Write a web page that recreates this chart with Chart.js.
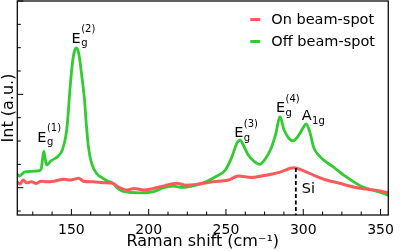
<!DOCTYPE html>
<html><head><meta charset="utf-8">
<script src="https://cdn.jsdelivr.net/npm/chart.js@4"></script>
<style>html,body{margin:0;padding:0;background:#fff;}</style>
</head><body>
<canvas id="c" width="401" height="251"></canvas>
<script>
// ---- data ----
const seriesNames = ['On beam-spot', 'Off beam-spot'];
const onX = [115,116.7,118.8,121.0,124.1,127.3,130.4,134.6,138.9,145.2,149.4,154.7,157.8,164.2,170.5,176.8,180.0,186.3,190.6,196.9,203.2,209.6,218.0,224.3,230.6,241.2,251.7,258.0,266.5,272.8,279.2,285.5,293.9,300.3,306.6,315.0,323.5,331.9,340.3,348.8,355];
const onY = [1.25,1.16,1.33,1.21,1.25,1.18,1.28,1.25,1.28,1.36,1.33,1.40,1.28,1.25,1.21,1.19,1.04,0.90,0.97,0.90,0.97,1.07,1.19,1.11,1.14,1.25,1.33,1.50,1.44,1.50,1.58,1.68,1.85,1.72,1.54,1.33,1.19,1.04,0.94,0.87,0.78];
const offX = [115,116.1,119.9,129.4,130.6,132.1,133.2,134.0,136.8,141.0,144.1,146.3,147.3,149.4,150.9,152.2,153.2,154.7,156.8,158.5,159.6,161.0,163.1,166.3,170.5,173.7,176.8,180.0,184.2,194.7,203.2,209.6,215.9,222.2,230.6,237.0,243.3,249.6,253.9,257.0,259.1,261.2,264.4,268.6,271.8,274.9,279.2,282.3,284.9,287.6,290.8,293.5,297.1,300.3,301.8,304.5,306.6,310.8,319.2,327.7,336.1,344.5,350.9,355];
const offY = [1.58,1.50,1.68,1.73,1.84,2.57,2.18,1.97,2.15,2.33,2.61,3.18,3.68,5.48,6.47,6.90,6.99,6.77,5.75,4.75,3.76,2.75,2.04,1.61,1.40,1.28,1.19,0.97,0.83,0.78,0.83,1.0,1.07,1.01,1.11,1.25,1.47,1.76,2.33,2.90,3.04,2.83,2.40,2.11,2.00,2.18,2.69,3.33,4.04,3.47,3.11,3.01,3.25,3.61,3.73,3.33,2.75,2.33,1.90,1.47,1.11,0.90,0.78,0.68];
const xTicks = [125,137.5,150,162.5,175,187.5,200,212.5,225,237.5,250,262.5,275,287.5,300,312.5,325,337.5,350];
const xMajor = [150,200,250,300,350];
const yTicks = [0,1,2,3,4,5,6,7,8,9];
const yMajor = [1,5,9];
// peak labels: [text, superscript, subscript, x, y]
const peakLabels = [
  ['E','(1)','g',127.9,2.97],
  ['E','(2)','g',150.1,7.21],
  ['E','(3)','g',255.3,3.17],
  ['E','(4)','g',282.3,4.23],
  ['A','','1g',299.0,3.90],
  ['Si','','',299.0,0.77]
];
const siLine = [295.2, 1.84];

const FONT = '"DejaVu Sans", sans-serif';
const colors = ['#fa5a5a', '#30cc30'];

function pts(xs, ys){ return xs.map((x,i)=>({x:x, y:ys[i]})); }

const deco = {
  id: 'deco',
  afterDraw(chart){
    const ctx = chart.ctx, a = chart.chartArea;
    const xs = chart.scales.x, ys = chart.scales.y;
    ctx.save();
    // Si dashed line
    ctx.strokeStyle = '#000'; ctx.lineWidth = 1.8; ctx.setLineDash([4,2.5]);
    const sx = xs.getPixelForValue(siLine[0]);
    ctx.beginPath(); ctx.moveTo(sx, ys.getPixelForValue(siLine[1])); ctx.lineTo(sx, a.bottom); ctx.stroke();
    ctx.setLineDash([]);
    // frame
    ctx.lineWidth = 1.25;
    ctx.strokeRect(a.left, a.top, a.right - a.left, a.bottom - a.top);
    // ticks (inward)
    ctx.lineWidth = 1;
    ctx.beginPath();
    xs.ticks.forEach(t => {
      const px = xs.getPixelForValue(t.value);
      const L = xMajor.includes(t.value) ? 6 : 3.5;
      ctx.moveTo(px, a.bottom); ctx.lineTo(px, a.bottom - L);
    });
    ys.ticks.forEach(t => {
      const py = ys.getPixelForValue(t.value);
      const L = yMajor.includes(t.value) ? 6 : 3.5;
      ctx.moveTo(a.left, py); ctx.lineTo(a.left + L, py);
    });
    ctx.stroke();
    // peak labels
    ctx.fillStyle = '#000'; ctx.textBaseline = 'alphabetic'; ctx.textAlign = 'left';
    peakLabels.forEach(p => {
      const x = xs.getPixelForValue(p[3]), y = ys.getPixelForValue(p[4]);
      ctx.font = '14.5px ' + FONT;
      ctx.fillText(p[0], x, y);
      const w = ctx.measureText(p[0]).width;
      ctx.font = '10px ' + FONT;
      if (p[1]) ctx.fillText(p[1], x + w + 0.5, y - 10.5);
      if (p[2]) ctx.fillText(p[2], x + w + 0.5, y + 3.5);
    });
    // legend
    ctx.font = '14.5px ' + FONT; ctx.textBaseline = 'middle';
    chart.data.datasets.forEach((d, i) => {
      const y = a.top + 18.5 + i * 22;
      ctx.strokeStyle = d.borderColor; ctx.lineWidth = 3;
      ctx.beginPath(); ctx.moveTo(a.right - 138, y); ctx.lineTo(a.right - 128, y); ctx.stroke();
      ctx.fillText(d.label, a.right - 117, y + 1);
    });
    ctx.restore();
  }
};

new Chart(document.getElementById('c'), {
  type: 'line',
  data: {
    datasets: [
      {label: seriesNames[0], data: pts(onX, onY), borderColor: colors[0], borderWidth: 3, pointRadius: 0, cubicInterpolationMode: 'monotone', fill: false},
      {label: seriesNames[1], data: pts(offX, offY), borderColor: colors[1], borderWidth: 2.8, pointRadius: 0, cubicInterpolationMode: 'monotone', fill: false}
    ]
  },
  options: {
    responsive: false, animation: false, devicePixelRatio: 1,
    layout: {padding: {top: 1, right: 5, left: 0, bottom: 0}},
    plugins: {legend: {display: false}, tooltip: {enabled: false}},
    scales: {
      x: {
        type: 'linear', min: 115, max: 355,
        afterBuildTicks: s => { s.ticks = xTicks.map(v => ({value: v})); },
        afterFit: s => { s.height = 36; },
        ticks: {autoSkip: false, maxRotation: 0, padding: 7, color: '#000', font: {family: FONT, size: 14},
          callback: v => xMajor.includes(v) ? String(v) : ''},
        grid: {display: false, drawTicks: false},
        border: {display: false},
        title: {display: true, text: 'Raman shift (cm⁻¹)', color: '#000', font: {family: FONT, size: 16, lineHeight: 1}, padding: {top: 0, bottom: 1.5}}
      },
      y: {
        type: 'linear', min: -0.17, max: 9,
        afterBuildTicks: s => { s.ticks = yTicks.map(v => ({value: v})); },
        afterFit: s => { s.width = 17.3; },
        ticks: {display: false},
        grid: {display: false, drawTicks: false},
        border: {display: false},
        title: {display: true, text: 'Int (a.u.)', color: '#000', font: {family: FONT, size: 16, lineHeight: 1}, padding: {top: 1, bottom: 0}}
      }
    }
  },
  plugins: [deco]
});
</script>
</body></html>
